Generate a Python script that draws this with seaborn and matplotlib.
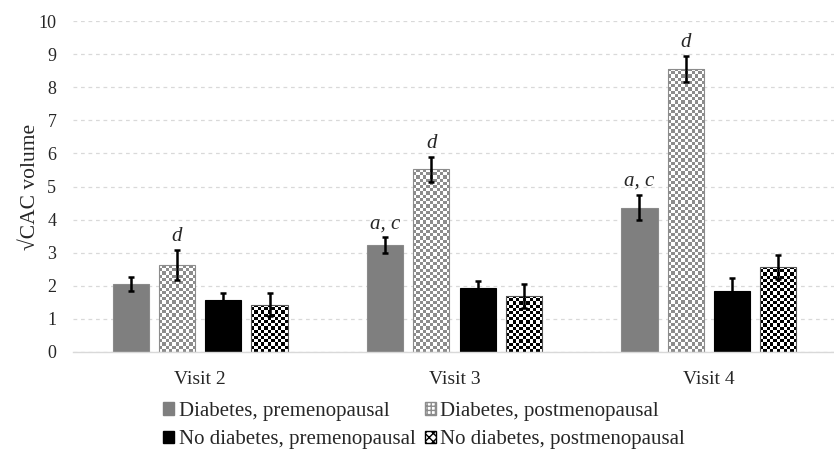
import numpy as np
import pandas as pd
import matplotlib
import matplotlib.pyplot as plt
import seaborn as sns
from matplotlib.patches import Patch
from matplotlib.colors import ListedColormap

"""Values read from the chart"""
visits = ["Visit 2", "Visit 3", "Visit 4"]
groups = ["Diabetes, premenopausal", "Diabetes, postmenopausal",
          "No diabetes, premenopausal", "No diabetes, postmenopausal"]
diab_pre = [2.05, 3.23, 4.36]
diab_post = [2.62, 5.52, 8.55]
nodiab_pre = [1.57, 1.92, 1.83]
nodiab_post = [1.43, 1.70, 2.58]
err_diab_pre = [0.22, 0.23, 0.38]
err_diab_post = [0.45, 0.38, 0.40]
err_nodiab_pre = [0.20, 0.22, 0.40]
err_nodiab_post = [0.35, 0.36, 0.36]
labels_diab_pre = ["", "a, c", "a, c"]
labels_diab_post = ["d", "d", "d"]

values = [diab_pre, diab_post, nodiab_pre, nodiab_post]
errors = [err_diab_pre, err_diab_post, err_nodiab_pre, err_nodiab_post]
notes = [labels_diab_pre, labels_diab_post, ["", "", ""], ["", "", ""]]

df = pd.DataFrame({
    "visit": np.tile(visits, len(groups)),
    "group": np.repeat(groups, len(visits)),
    "value": np.concatenate(values),
})

sns.set_theme(style="white")
serif = ["Liberation Serif", "DejaVu Serif"]
plt.rcParams["font.family"] = serif

fig = plt.figure(figsize=(8.34, 4.49), dpi=100)
ax = fig.add_axes([73 / 834, 97 / 449, 763 / 834, 331 / 449])

base_colors = ["#7f7f7f", "#ffffff", "#000000", "#ffffff"]
sns.barplot(data=df, x="visit", y="value", hue="group", hue_order=groups,
            order=visits, palette=base_colors, errorbar=None,
            width=0.727, gap=0.22, ax=ax, legend=False, saturation=1)
bar_groups = list(ax.containers)

ax.set_ylim(0, 10)
ax.set_xlim(-0.5, 2.5)
ax.set_yticks(range(0, 11))
ax.yaxis.grid(True, color="#d9d9d9", linestyle=(0, (3, 3)), linewidth=0.9)
ax.set_axisbelow(True)
for s in ["top", "right", "left"]:
    ax.spines[s].set_visible(False)
ax.spines["bottom"].set_color("#d9d9d9")
ax.spines["bottom"].set_linewidth(1.0)

"""Checkerboard fills for postmenopausal groups"""
checker_colors = {1: ["#ffffff", "#8c8c8c"], 3: ["#ffffff", "#000000"]}
edge_colors = ["#8a8a8a", "#8c8c8c", "#000000", "#555555"]
cell = 3.2
for gi, cont in enumerate(bar_groups):
    for j, bar in enumerate(cont):
        bar.set_edgecolor(edge_colors[gi])
        bar.set_linewidth(0.8)
        if gi in checker_colors:
            x0, w, h = bar.get_x(), bar.get_width(), bar.get_height()
            p0 = ax.transData.transform((x0, 0))
            p1 = ax.transData.transform((x0 + w, h))
            nw = max(1, int(round(abs(p1[0] - p0[0]) / cell)))
            nh = max(1, int(round(abs(p1[1] - p0[1]) / cell)))
            board = (np.add.outer(np.arange(nh), np.arange(nw)) % 2).astype(float)
            im = ax.imshow(board, extent=(x0, x0 + w, 0, h), origin="lower",
                           cmap=ListedColormap(checker_colors[gi]),
                           interpolation="nearest", aspect="auto", zorder=2)
            im.set_clip_path(bar)
            bar.set_facecolor("none")
            bar.set_zorder(2.5)

ax.set_ylim(0, 10)
ax.set_xlim(-0.5, 2.5)

"""Error bars and significance letters"""
for gi, cont in enumerate(bar_groups):
    for j, bar in enumerate(cont):
        xc = bar.get_x() + bar.get_width() / 2
        top = values[gi][j] + errors[gi][j]
        ax.errorbar(xc, values[gi][j], yerr=errors[gi][j], color="black",
                    elinewidth=1.8, capsize=2.5, capthick=1.8, zorder=4)
        if notes[gi][j]:
            ax.annotate(notes[gi][j], (xc, top), xytext=(0, 3),
                        textcoords="offset points", ha="center", va="bottom",
                        fontsize=15, fontstyle="italic", family=serif)

ax.set_xlabel("")
ax.set_ylabel("√CAC volume", fontsize=15.5, labelpad=-1)
ax.tick_params(axis="y", labelsize=13, pad=12, length=0)
ax.tick_params(axis="x", labelsize=14, pad=14, length=0)

handles = [
    Patch(facecolor="#7f7f7f", edgecolor="#7f7f7f", label=groups[0]),
    Patch(facecolor="#000000", edgecolor="#000000", label=groups[2]),
    Patch(facecolor="#ffffff", edgecolor="#8c8c8c", hatch="++++", label=groups[1]),
    Patch(facecolor="#ffffff", edgecolor="#000000", hatch="xxxx", label=groups[3]),
]
fig.legend(handles=handles, ncol=2, loc="upper left",
           bbox_to_anchor=(163 / 834, 1 - 402 / 449), frameon=False, fontsize=15,
           handlelength=0.55, handleheight=0.55, handletextpad=0.2,
           columnspacing=0.45, labelspacing=0.45, borderpad=0.0,
           borderaxespad=0.0)

plt.savefig("out.png", dpi=100)
